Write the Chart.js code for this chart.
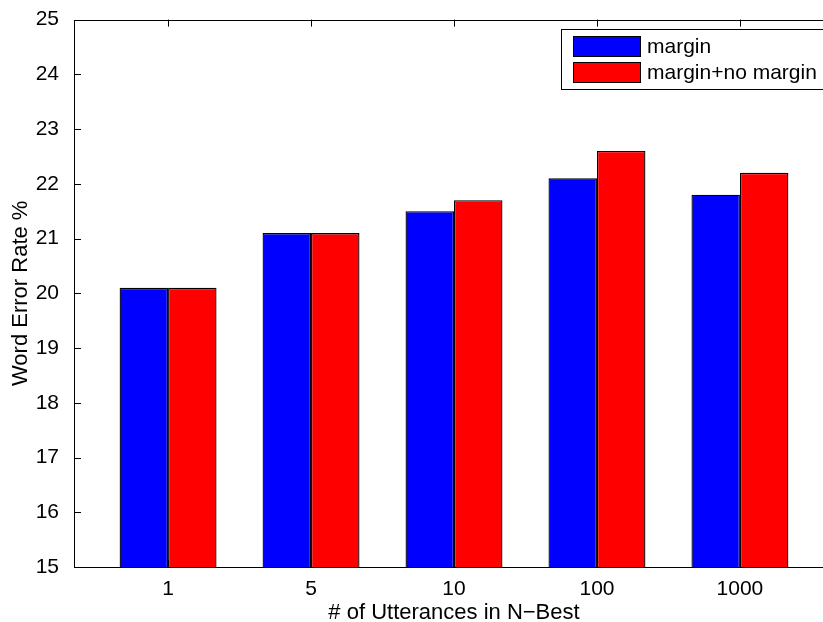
<!DOCTYPE html>
<html>
<head>
<meta charset="utf-8">
<script src="https://cdn.jsdelivr.net/npm/chart.js@4.4.0/dist/chart.umd.min.js"></script>
<style>
  html, body { margin: 0; padding: 0; background: #fff; overflow: hidden; }
  #wrap { position: absolute; left: 0; top: 0; width: 850px; height: 622px; }
</style>
</head>
<body>
<div id="wrap"><canvas id="werChart"></canvas></div>
<script>
// N-best sizes on the x axis
var categories = ['1', '5', '10', '100', '1000'];
// word error rate (%) per series
var marginWER = [20.1, 21.1, 21.5, 22.1, 21.8];
var marginNoMarginWER = [20.1, 21.1, 21.7, 22.6, 22.2];
var yTicks = [15, 16, 17, 18, 19, 20, 21, 22, 23, 24, 25];

var FONT = '"Liberation Sans", Arial, Helvetica, sans-serif';

function toPoints(values) {
  return values.map(function(v, i) { return { x: i + 1, y: v }; });
}

//frame, inward ticks, legend and x label in MATLAB style
var matlabAxes = {
  id: 'matlabAxes',
  beforeDatasetsDraw: function(chart) {
    var ctx = chart.ctx, a = chart.chartArea;
    var xs = chart.scales.x, ys = chart.scales.y;
    var tick = 7;
    ctx.save();
    ctx.strokeStyle = '#000';
    ctx.lineWidth = 1;
    ctx.beginPath();
    yTicks.forEach(function(t) {
      var py = Math.round(ys.getPixelForValue(t)) + 0.5;
      ctx.moveTo(a.left, py); ctx.lineTo(a.left + tick, py);
      ctx.moveTo(a.right, py); ctx.lineTo(a.right - tick, py);
    });
    categories.forEach(function(c, i) {
      var px = Math.round(xs.getPixelForValue(i + 1)) + 0.5;
      ctx.moveTo(px, a.top); ctx.lineTo(px, a.top + tick);
      ctx.moveTo(px, a.bottom); ctx.lineTo(px, a.bottom - tick);
    });
    ctx.stroke();
    ctx.restore();
  },
  afterDraw: function(chart) {
    var ctx = chart.ctx, a = chart.chartArea;
    ctx.save();
    ctx.strokeStyle = '#000';
    ctx.lineWidth = 1;
    ctx.strokeRect(Math.round(a.left) + 0.5, Math.round(a.top) + 0.5,
                   Math.round(a.right - a.left), Math.round(a.bottom - a.top));

    // legend box
    var lx = 561, ly = 29, lw = 268, lh = 60;
    ctx.fillStyle = '#fff';
    ctx.fillRect(lx, ly, lw, lh);
    ctx.strokeRect(lx + 0.5, ly + 0.5, lw, lh);
    ctx.font = '21px ' + FONT;
    ctx.textBaseline = 'middle';
    ctx.textAlign = 'left';
    chart.data.datasets.forEach(function(ds, i) {
      var sy = 36 + i * 26;
      ctx.fillStyle = ds.backgroundColor;
      ctx.fillRect(573, sy, 67, 20);
      ctx.strokeRect(573.5, sy + 0.5, 67, 20);
      ctx.fillStyle = '#000';
      ctx.fillText(ds.label, 647, sy + 11);
    });

    // x axis label, centred on the axes
    ctx.font = '22px ' + FONT;
    ctx.textAlign = 'center';
    ctx.textBaseline = 'alphabetic';
    ctx.fillText('# of Utterances in N\u2212Best', (a.left + a.right) / 2, 619);
    ctx.restore();
  }
};

var ctx = document.getElementById('werChart').getContext('2d');
var werChart = new Chart(ctx, {
  type: 'bar',
  data: {
    datasets: [{
      label: 'margin',
      data: toPoints(marginWER),
      backgroundColor: '#0000ff',
      borderColor: '#000',
      borderWidth: 1.3
    }, {
      label: 'margin+no margin',
      data: toPoints(marginNoMarginWER),
      backgroundColor: '#ff0000',
      borderColor: '#000',
      borderWidth: 1.3
    }]
  },
  options: {
    responsive: true,
    maintainAspectRatio: false,
    animation: false,
    categoryPercentage: 0.678,
    barPercentage: 1,
    layout: { padding: { top: 19, right: 16, left: 0, bottom: 0 } },
    plugins: {
      legend: { display: false },
      tooltip: { enabled: false }
    },
    scales: {
      x: {
        type: 'linear',
        min: 0.342,
        max: 5.658,
        offset: false,
        grid: { display: false, offset: false },
        border: { display: false },
        afterBuildTicks: function(scale) {
          scale.ticks = categories.map(function(c, i) { return { value: i + 1 }; });
        },
        afterFit: function(scale) { scale.height = 55; },
        ticks: {
          autoSkip: false,
          maxRotation: 0,
          padding: 2,
          color: '#000',
          font: { family: FONT, size: 21 },
          callback: function(v) { return categories[v - 1]; }
        }
      },
      y: {
        min: 15,
        max: 25,
        grid: { display: false },
        border: { display: false },
        afterBuildTicks: function(scale) {
          scale.ticks = yTicks.map(function(t) { return { value: t }; });
        },
        afterFit: function(scale) { scale.width = 74; },
        ticks: {
          padding: 7,
          color: '#000',
          font: { family: FONT, size: 21 }
        },
        title: {
          display: true,
          text: 'Word Error Rate %',
          color: '#000',
          padding: { top: 8, bottom: 0 },
          font: { family: FONT, size: 22 }
        }
      }
    }
  },
  plugins: [matlabAxes]
});
</script>
</body>
</html>
